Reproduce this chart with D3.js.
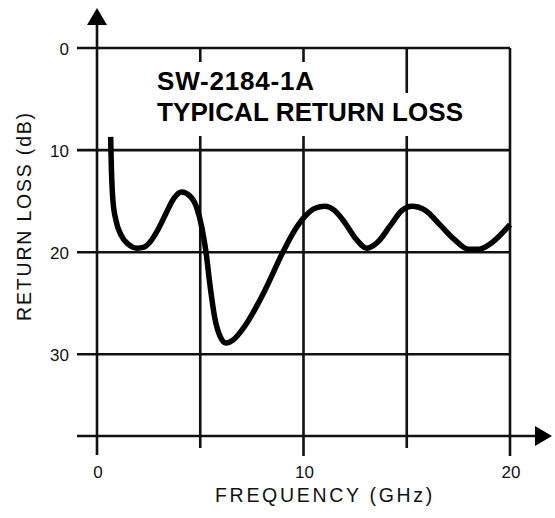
<!DOCTYPE html>
<html>
<head>
<meta charset="utf-8">
<script src="https://d3js.org/d3.v7.min.js"></script>
<style>
  body { margin: 0; background: #fff; }
  svg { display: block; font-family: "Liberation Sans", Arial, Helvetica, sans-serif; }
  .grid { stroke: #111; stroke-width: 2.6px; fill: none; }
  .curve { stroke: #000; stroke-width: 5.5px; fill: none; stroke-linejoin: round; stroke-linecap: butt; }
  .tick { fill: #111; font-size: 17px; }
  .title { fill: #000; font-size: 26px; font-weight: bold; }
  .axlabel { fill: #111; font-size: 19.5px; }
</style>
</head>
<body>
<svg id="chart" width="555" height="518"></svg>
<script>
// frequency (GHz) and return loss (dB)
var freq = [0.66, 0.70, 0.77, 0.92, 1.16, 1.5, 1.94, 2.28, 2.57, 2.95, 3.34, 3.73, 4.1, 4.5, 4.84, 5.08, 5.28, 5.47, 5.71, 5.95, 6.25, 6.59, 7.17, 8.14, 9.0, 9.59, 10.07, 10.56, 11.04, 11.5, 12.0, 12.5, 13.07, 13.6, 14.2, 14.77, 15.25, 15.9, 16.6, 17.33, 17.97, 18.5, 19.1, 20.0];
var returnLoss = [8.7, 12.0, 14.9, 16.9, 18.3, 19.2, 19.6, 19.5, 19.0, 17.8, 16.2, 14.7, 14.1, 14.5, 15.7, 17.6, 20.0, 23.2, 26.5, 28.2, 28.9, 28.6, 27.2, 23.7, 20.0, 17.8, 16.5, 15.7, 15.5, 15.9, 17.1, 18.6, 19.6, 19.0, 17.4, 15.9, 15.5, 15.9, 17.3, 18.8, 19.7, 19.7, 19.1, 17.3];

var xGrid = [0, 5, 10, 15, 20];
var xTickLabels = [0, 10, 20];
var yGrid = [0, 10, 20, 30];
var yTickLabels = [0, 10, 20, 30];
var titleLines = ["SW-2184-1A", "TYPICAL RETURN LOSS"];

var svg = d3.select("#chart");

var x = d3.scaleLinear().domain([0, 20]).range([97, 510]);
var y = d3.scaleLinear().domain([0, 38]).range([48, 436]);
var yBottom = y(38);

var g = svg.append("g");

// horizontal grid lines (with small tick to the left)
g.selectAll(".hgrid")
  .data(yGrid)
  .enter().append("line")
  .attr("class", "grid")
  .attr("x1", 77).attr("x2", x(20))
  .attr("y1", d => y(d)).attr("y2", d => y(d));

// vertical grid lines
g.selectAll(".vgrid")
  .data(xGrid.filter(d => d > 0))
  .enter().append("line")
  .attr("class", "grid")
  .attr("x1", d => x(d)).attr("x2", d => x(d))
  .attr("y1", y(0))
  .attr("y2", d => xTickLabels.indexOf(d) >= 0 ? yBottom + 20 : yBottom + 12);

// y axis with arrow
g.append("line").attr("class", "grid")
  .attr("x1", x(0)).attr("x2", x(0))
  .attr("y1", 22).attr("y2", yBottom + 19);
g.append("path")
  .attr("d", "M" + x(0) + ",8 L" + (x(0) - 10) + ",25 L" + (x(0) + 10) + ",25 Z")
  .attr("fill", "#000");

// x axis with arrow
g.append("line").attr("class", "grid")
  .attr("x1", 77).attr("x2", 538)
  .attr("y1", yBottom).attr("y2", yBottom);
g.append("path")
  .attr("d", "M552," + yBottom + " L535," + (yBottom - 10) + " L535," + (yBottom + 10) + " Z")
  .attr("fill", "#000");

// title with white background masking the grid
var tg = svg.append("g");
var titleBaselines = [90, 121];
titleLines.forEach(function(t, i) {
  var txt = tg.append("text")
    .attr("class", "title")
    .attr("x", 157).attr("y", titleBaselines[i])
    .attr("letter-spacing", i === 0 ? 0.8 : 0.1)
    .text(t);
  var bb = txt.node().getBBox();
  var top = i === 0 ? 62 : 93;
  var bot = i === 0 ? 93 : 136;
  tg.insert("rect", "text")
    .attr("x", bb.x - 4).attr("y", top)
    .attr("width", bb.width + 8).attr("height", bot - top)
    .attr("fill", "#fff");
});

// return loss curve
var line = d3.line()
  .x((d, i) => x(freq[i]))
  .y(d => y(d))
  .curve(d3.curveMonotoneX);
svg.append("path")
  .datum(returnLoss)
  .attr("class", "curve")
  .attr("d", line);

// tick labels
svg.selectAll(".ylab")
  .data(yTickLabels)
  .enter().append("text")
  .attr("class", "tick")
  .attr("x", 69).attr("y", d => y(d) + 6.5)
  .attr("text-anchor", "end")
  .text(d => d);

svg.selectAll(".xlab")
  .data(xTickLabels)
  .enter().append("text")
  .attr("class", "tick")
  .attr("x", d => x(d) + 1).attr("y", 478)
  .attr("text-anchor", "middle")
  .text(d => d);

// axis titles
svg.append("text")
  .attr("class", "axlabel")
  .attr("x", 325).attr("y", 502)
  .attr("text-anchor", "middle")
  .attr("letter-spacing", 2.7)
  .text("FREQUENCY (GHz)");

svg.append("text")
  .attr("class", "axlabel")
  .attr("transform", "translate(31,216) rotate(-90)")
  .attr("text-anchor", "middle")
  .attr("letter-spacing", 1.8)
  .text("RETURN LOSS (dB)");
</script>
</body>
</html>
